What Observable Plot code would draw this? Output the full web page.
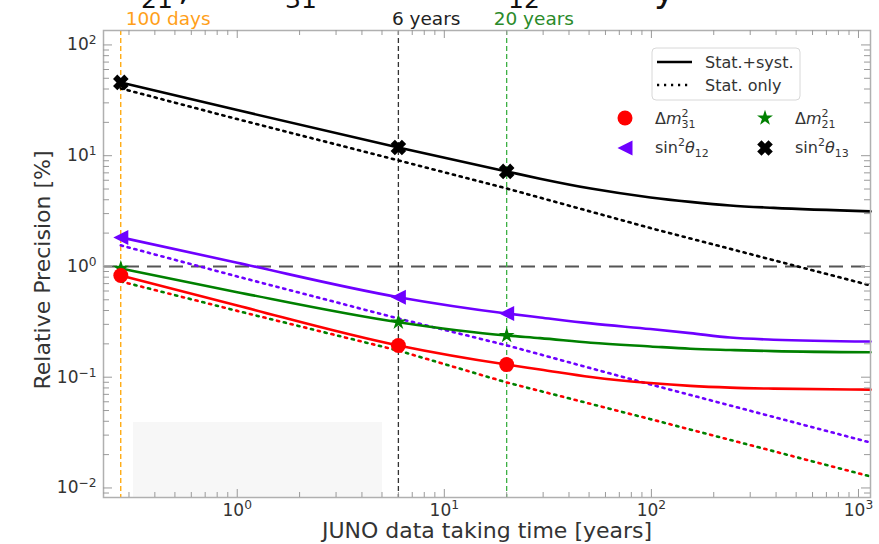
<!DOCTYPE html>
<html><head><meta charset="utf-8">
<script src="https://cdn.jsdelivr.net/npm/d3@7"></script>
<script src="https://cdn.jsdelivr.net/npm/@observablehq/plot@0.6"></script>
<style>
body{margin:0;background:#fff;}
#wrap{position:relative;width:879px;height:544px;overflow:hidden;font-family:"DejaVu Sans",sans-serif;}
#shade{position:absolute;left:133px;top:422px;width:249px;height:75px;background:#f7f7f7;}
#chart{position:absolute;left:0;top:0;}
#title{position:absolute;left:0;top:0;}
</style></head><body>
<div id="wrap"><div id="shade"></div><div id="chart"></div>
<svg id="title" width="879" height="16" font-family="DejaVu Sans" fill="#111">
<text x="141" y="8" font-size="25">21</text>
<text x="178" y="0" font-size="36">,</text>
<text x="285" y="8" font-size="25">31</text>
<text x="508" y="8" font-size="25">12</text>
<text x="654" y="2" font-size="36">y</text>
</svg>
</div>
<script>
// ---- data ----
const times = [0.274, 1, 6, 20, 29, 51, 99, 154, 240, 389, 1143];
const dm31 = [0.829, 0.444, 0.1935, 0.130, 0.1175, 0.1005, 0.0885, 0.0835, 0.0805, 0.0788, 0.0772];
const dm21 = [0.959, 0.586, 0.314, 0.238, 0.2254, 0.2047, 0.1895, 0.1806, 0.176, 0.172, 0.168];
const s12  = [1.83, 1.08, 0.528, 0.376, 0.346, 0.306, 0.272, 0.250, 0.228, 0.218, 0.210];
const s13  = [45.9, 25.8, 11.87, 7.21, 6.2, 5.05, 4.2, 3.83, 3.55, 3.38, 3.14];
const statTimes = [0.274, 1, 6, 20, 99, 1143];
const dm31Stat = [0.732, 0.397, 0.174, 0.0897, 0.0418, 0.0127];
const dm21Stat = [0.732, 0.397, 0.174, 0.0897, 0.0418, 0.0127];
const s12Stat  = [1.55, 0.812, 0.339, 0.194, 0.086, 0.0257];
const s13Stat  = [40.5, 21.4, 9.07, 5.06, 2.22, 0.674];
const markerTimes = [0.274, 6, 20];
const refTimes = [100/365.25, 6, 20];
const refLabels = ["100 days", "6 years", "20 years"];
const xTicks = [1, 10, 100, 1000];
const yTicks = [0.01, 0.1, 1, 10, 100];
const xLabel = "JUNO data taking time [years]";
const yLabel = "Relative Precision [%]";

// ---- styling ----
const W = 879, H = 544, mL = 103, mR = 9, mT = 30, mB = 47;
const innerW = W - mL - mR, innerH = H - mT - mB;
const xDomain = [0.226, 1143], yDomain = [0.0082, 135];
const C = {dm31: "#ff0000", dm21: "#008000", s12: "#6e00ff", s13: "#000000"};
const refStroke = ["#ffa500", "#333333", "#3cb043"];
const refText = ["#ff9f1a", "#222222", "#2a8a2a"];
const refDx = [5, -6.5, -13];
const dotted = "2.2,4.8";

const symX = {draw(ctx, size){const a=Math.sqrt(size/Math.PI), w=a*0.38, c=Math.SQRT1_2;
  const p=[[w,a],[w,w],[a,w],[a,-w],[w,-w],[w,-a],[-w,-a],[-w,-w],[-a,-w],[-a,w],[-w,w],[-w,a]];
  p.forEach(([x,y],i)=>{const X=(x-y)*c,Y=(x+y)*c; i?ctx.lineTo(X,Y):ctx.moveTo(X,Y);}); ctx.closePath();}};
const symTri = {draw(ctx, size){const a=Math.sqrt(size/Math.PI); ctx.moveTo(-a,0); ctx.lineTo(a,-a); ctx.lineTo(a,a); ctx.closePath();}};

const seriesList = [
  {key:"s13", solid:s13, stat:s13Stat, symbol:symX, r:8},
  {key:"s12", solid:s12, stat:s12Stat, symbol:symTri, r:7.5},
  {key:"dm21", solid:dm21, stat:dm21Stat, symbol:"star", r:5},
  {key:"dm31", solid:dm31, stat:dm31Stat, symbol:"circle", r:7.5}
];
const solidRows = k => times.map((t,i)=>({t, v: seriesList.find(s=>s.key===k).solid[i]}));
const statRows = k => statTimes.map((t,i)=>({t, v: seriesList.find(s=>s.key===k).stat[i]}));
const markRows = k => solidRows(k).filter(d => markerTimes.includes(d.t));

function minorTicks(lo, hi){const out=[]; for(let e=-3;e<=3;e++) for(let k=2;k<=9;k++){const v=k*10**e; if(v>lo&&v<hi) out.push(v);} return out;}
const xMinor = minorTicks(...xDomain), yMinor = minorTicks(...yDomain);
const fmt = d => `10^${Math.round(Math.log10(d))}`;
const tickCol = "#9a9a9a";

const marks = [
  Plot.ruleY([1], {stroke:"#555", strokeWidth:2, strokeDasharray:"14,8"}),
  ...refTimes.map((t,i)=>Plot.ruleX([t], {stroke: refStroke[i], strokeWidth:1.3, strokeDasharray:"5,3"})),
  Plot.line(statRows("s13"), {x:"t", y:"v", stroke:C.s13, strokeWidth:2.6, strokeDasharray:dotted}),
  Plot.line(statRows("s12"), {x:"t", y:"v", stroke:C.s12, strokeWidth:2.6, strokeDasharray:dotted}),
  Plot.line(statRows("dm21"), {x:"t", y:"v", stroke:C.dm21, strokeWidth:2.6, strokeDasharray:"2.2,11.8"}),
  Plot.line(statRows("dm31"), {x:"t", y:"v", stroke:C.dm31, strokeWidth:2.6, strokeDasharray:"2.2,11.8", strokeDashoffset:7}),
  ...seriesList.map(s=>Plot.line(solidRows(s.key), {x:"t", y:"v", stroke:C[s.key], strokeWidth:2.6, curve:"monotone-x"})),
  ...seriesList.map(s=>Plot.dot(markRows(s.key), {x:"t", y:"v", fill:C[s.key], stroke:"none", symbol:s.symbol, r:s.r})),
  ...refTimes.map((t,i)=>Plot.text([t], {x:d=>d, frameAnchor:"top", lineAnchor:"middle", dy:-11, dx:refDx[i], textAnchor:"start", text:()=>refLabels[i], fill:refText[i], fontSize:18.5})),
  Plot.frame({stroke:"#b0b0b0", strokeWidth:1.5}),
  Plot.tickX(xTicks, {x:d=>d, insetTop: innerH-8, stroke:tickCol}),
  Plot.tickX(xTicks, {x:d=>d, insetBottom: innerH-8, stroke:tickCol}),
  Plot.tickX(xMinor, {x:d=>d, insetTop: innerH-5, stroke:tickCol}),
  Plot.tickX(xMinor, {x:d=>d, insetBottom: innerH-5, stroke:tickCol}),
  Plot.tickY(yTicks, {y:d=>d, insetRight: innerW-9, stroke:tickCol}),
  Plot.tickY(yTicks, {y:d=>d, insetLeft: innerW-9, stroke:tickCol}),
  Plot.tickY(yMinor, {y:d=>d, insetRight: innerW-6, stroke:tickCol}),
  Plot.tickY(yMinor, {y:d=>d, insetLeft: innerW-6, stroke:tickCol}),
  Plot.axisX({ticks:xTicks, tickSize:0, tickPadding:6, tickFormat:fmt, fontSize:17, label:null}),
  Plot.axisY({ticks:yTicks, tickSize:0, tickPadding:7, tickFormat:fmt, fontSize:17, label:null}),
  Plot.text([xLabel], {frameAnchor:"bottom", lineAnchor:"middle", textAnchor:"middle", dy:33, text:d=>d, fontSize:22, fill:"#333"}),
  Plot.text([yLabel], {frameAnchor:"left", lineAnchor:"middle", textAnchor:"middle", dx:-61, dy:6, rotate:-90, text:d=>d, fontSize:22, fill:"#333"})
];

const svg = Plot.plot({
  width: W, height: H, marginLeft: mL, marginRight: mR, marginTop: mT, marginBottom: mB,
  x: {type:"log", domain:xDomain},
  y: {type:"log", domain:yDomain},
  style: {fontFamily:"DejaVu Sans", fontSize:"17px", color:"#333", background:"transparent", overflow:"visible"},
  marks
});
document.getElementById("chart").appendChild(svg);

// superscript tick labels
d3.select(svg).selectAll("text").each(function(){
  const m = /^10\^(-?\d+)$/.exec(this.textContent);
  if(!m) return;
  const e = m[1].replace("-", "\u2212");
  const t = d3.select(this); t.text("");
  t.append("tspan").text("10");
  t.append("tspan").attr("dy","-0.5em").attr("font-size","0.72em").text(e);
});

// legend
const L = d3.select(svg).append("g").attr("font-family","DejaVu Sans").attr("fill","#333").attr("text-anchor","start");
L.append("rect").attr("x",652).attr("y",48).attr("width",148).attr("height",52).attr("rx",4)
  .attr("fill","#fff").attr("fill-opacity",0.85).attr("stroke","#d8d8d8");
L.append("line").attr("x1",657).attr("x2",692).attr("y1",62).attr("y2",62).attr("stroke","#000").attr("stroke-width",2.6);
L.append("line").attr("x1",657).attr("x2",692).attr("y1",85).attr("y2",85).attr("stroke","#000").attr("stroke-width",2.6).attr("stroke-dasharray",dotted);
L.append("text").attr("x",705).attr("y",68).attr("font-size",16).text("Stat.+syst.");
L.append("text").attr("x",705).attr("y",91).attr("font-size",16).text("Stat. only");
const lsym = (sym, r, x, y, col) => L.append("path").attr("transform",`translate(${x},${y})`)
  .attr("d", d3.symbol(typeof sym === "string" ? d3.symbolStar : sym, r*r*Math.PI)()).attr("fill", col);
L.append("circle").attr("cx",625).attr("cy",118).attr("r",7.5).attr("fill",C.dm31);
lsym("star", 5, 765, 118, C.dm21);
lsym(symTri, 7.5, 625, 148, C.s12);
lsym(symX, 8, 765, 148, C.s13);
function mathLabel(x, y, parts){
  const t = L.append("text").attr("x",x).attr("y",y).attr("font-size",16);
  parts.forEach(p=>{const s=t.append("tspan").text(p.t); if(p.i) s.attr("font-style","italic"); if(p.fs) s.attr("font-size",p.fs); if(p.dy) s.attr("dy",p.dy); if(p.dx) s.attr("dx",p.dx);});
}
mathLabel(655, 124, [{t:"\u0394"},{t:"m",i:1},{t:"2",fs:11,dy:-7},{t:"31",fs:11,dx:-7,dy:11}]);
mathLabel(795, 124, [{t:"\u0394"},{t:"m",i:1},{t:"2",fs:11,dy:-7},{t:"21",fs:11,dx:-7,dy:11}]);
mathLabel(655, 153, [{t:"sin"},{t:"2",fs:11,dy:-7},{t:"\u03b8",i:1,dy:7},{t:"12",fs:11,dy:4}]);
mathLabel(795, 153, [{t:"sin"},{t:"2",fs:11,dy:-7},{t:"\u03b8",i:1,dy:7},{t:"13",fs:11,dy:4}]);
</script>
</body></html>
